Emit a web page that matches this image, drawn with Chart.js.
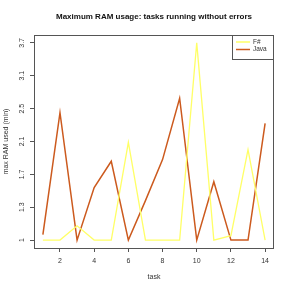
<!DOCTYPE html>
<html>
<head>
<meta charset="utf-8">
<script src="https://cdn.jsdelivr.net/npm/chart.js@4/dist/chart.umd.min.js"></script>
<style>
  html, body { margin: 0; padding: 0; background: #fff; }
  #wrap { width: 291px; height: 291px; }
</style>
</head>
<body>
<div id="wrap"><canvas id="ramChart" width="291" height="291"></canvas></div>
<script>
// tasks 1..14
const tasks = [1, 2, 3, 4, 5, 6, 7, 8, 9, 10, 11, 12, 13, 14];
// max RAM used
const fsharpRam = [1, 1, 1.13, 1, 1, 2.09, 1, 1, 1, 3.7, 1, 1.04, 2.0, 1];
const javaRam = [1.05, 2.45, 1, 1.54, 1.86, 1, 1.38, 1.88, 2.69, 1, 1.61, 1, 1, 2.32];
// y tick labels (evenly spaced on the axis)
const yLabels = [1, 1.3, 1.7, 2.1, 2.5, 3.1, 3.7];
const xTicks = [2, 4, 6, 8, 10, 12, 14];
const titleText = "Maximum RAM usage: tasks running without errors";

const FONT = "'Liberation Sans', Arial, sans-serif";
const BOX = "#555";

// map a RAM value to its position between the (uneven) tick labels
function toLevel(v) {
  for (let i = 0; i < yLabels.length - 1; i++) {
    if (v <= yLabels[i + 1]) {
      return i + (v - yLabels[i]) / (yLabels[i + 1] - yLabels[i]);
    }
  }
  return yLabels.length - 1;
}

function points(vals) {
  return tasks.map((t, i) => ({ x: t, y: toLevel(vals[i]) }));
}

// title, box, rotated y labels and legend, R style
const rPlot = {
  id: "rPlot",
  afterDraw(chart) {
    const c = chart.ctx;
    const a = chart.chartArea;
    const y = chart.scales.y;
    c.save();

    c.fillStyle = "#111";
    c.font = "bold 8px " + FONT;
    c.textAlign = "center";
    c.textBaseline = "middle";
    c.fillText(titleText, (a.left + a.right) / 2, 17);

    c.strokeStyle = BOX;
    c.lineWidth = 1;
    c.strokeRect(a.left + 0.5, a.top + 0.5, a.right - a.left - 1, a.bottom - a.top);

    // y tick labels, reading upward
    c.fillStyle = "#333";
    c.font = "7px " + FONT;
    yLabels.forEach((lab, i) => {
      const py = y.getPixelForValue(i);
      c.save();
      c.translate(22, py);
      c.rotate(-Math.PI / 2);
      c.fillText(String(lab), 0, 0);
      c.restore();
    });

    // legend
    const lx = 232, ly = a.top, lw = a.right - lx, lh = 24;
    c.fillStyle = "#fff";
    c.fillRect(lx, ly, lw, lh);
    c.strokeStyle = BOX;
    c.strokeRect(lx + 0.5, ly + 0.5, lw - 1, lh);
    chart.data.datasets.forEach((ds, i) => {
      const ry = ly + 7 + i * 7.5;
      c.strokeStyle = ds.borderColor;
      c.lineWidth = 1.5;
      c.beginPath();
      c.moveTo(lx + 4, ry);
      c.lineTo(lx + 18, ry);
      c.stroke();
      c.fillStyle = "#333";
      c.font = "6.5px " + FONT;
      c.textAlign = "left";
      c.fillText(ds.label, lx + 21, ry);
    });
    c.restore();
  }
};

new Chart(document.getElementById("ramChart"), {
  type: "line",
  data: {
    datasets: [
      {
        label: "F#",
        data: points(fsharpRam),
        borderColor: "#ffff66",
        borderWidth: 1.3,
        pointRadius: 0,
        tension: 0
      },
      {
        label: "Java",
        data: points(javaRam),
        borderColor: "#cc5a1e",
        borderWidth: 1.5,
        pointRadius: 0,
        tension: 0
      }
    ]
  },
  options: {
    responsive: false,
    animation: false,
    layout: { padding: { left: 0, right: 17, top: 35, bottom: 0 } },
    plugins: {
      legend: { display: false },
      tooltip: { enabled: false },
      title: { display: false }
    },
    scales: {
      x: {
        type: "linear",
        min: 0.48,
        max: 14.52,
        afterBuildTicks: s => { s.ticks = xTicks.map(v => ({ value: v })); },
        afterFit: s => { s.height = 43; },
        border: { display: false },
        grid: { drawOnChartArea: false, drawTicks: true, tickLength: 4, color: BOX },
        ticks: { color: "#333", font: { family: FONT, size: 7 }, padding: 5, maxRotation: 0 },
        title: { display: true, text: "task", color: "#333", font: { family: FONT, size: 7 }, padding: { top: 0, bottom: 10 } }
      },
      y: {
        type: "linear",
        min: -0.24,
        max: 6.24,
        afterBuildTicks: s => { s.ticks = yLabels.map((_, i) => ({ value: i })); },
        afterFit: s => { s.width = 34; },
        border: { display: false },
        grid: { drawOnChartArea: false, drawTicks: true, tickLength: 4, color: BOX },
        ticks: { display: false },
        title: { display: true, text: "max RAM used (min)", color: "#333", font: { family: FONT, size: 7 }, padding: { top: 2 } }
      }
    }
  },
  plugins: [rPlot]
});
</script>
</body>
</html>
